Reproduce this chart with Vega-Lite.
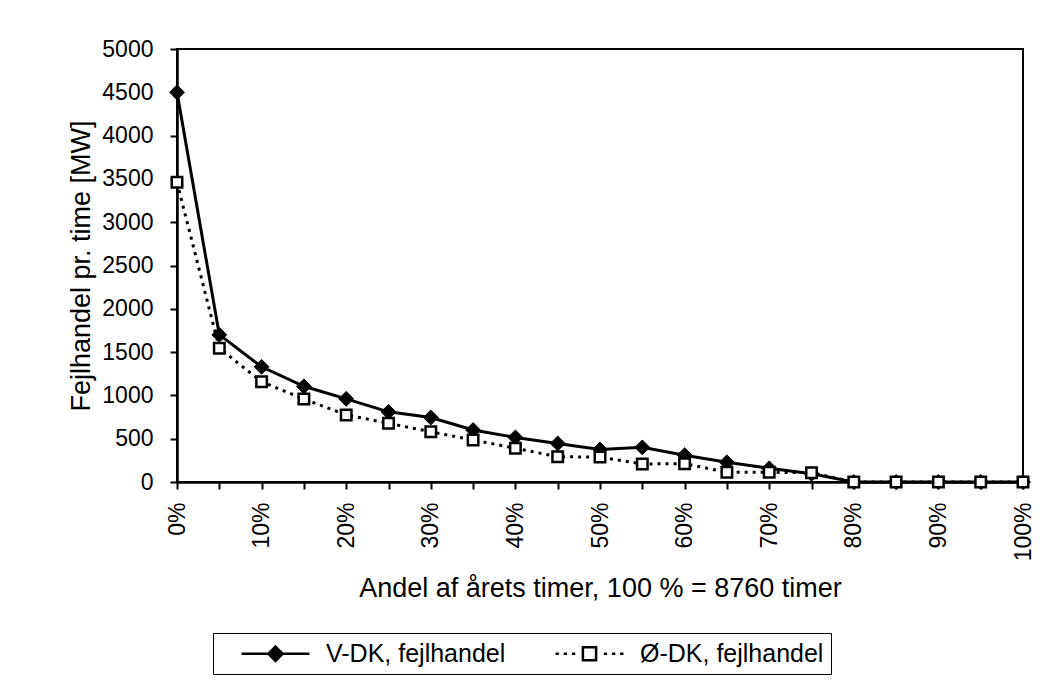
{
  "$schema": "https://vega.github.io/schema/vega-lite/v6.json",
  "width": 846,
  "height": 433,
  "autosize": {"type": "none"},
  "padding": {"left": 177, "top": 49, "right": 38, "bottom": 201},
  "background": "white",
  "config": {
    "view": {"stroke": "black", "strokeWidth": 2},
    "font": "Liberation Sans",
    "axis": {
      "domainColor": "black",
      "domainWidth": 2.5,
      "tickColor": "black",
      "tickWidth": 2,
      "tickSize": 7,
      "labelColor": "black",
      "titleColor": "black",
      "labelFont": "Liberation Sans",
      "titleFont": "Liberation Sans",
      "labelFontSize": 23,
      "titleFontSize": 27,
      "titleFontWeight": "normal",
      "grid": false
    },
    "legend": {
      "orient": "none",
      "direction": "horizontal",
      "strokeColor": "black",
      "padding": 7,
      "symbolSize": 576,
      "symbolStrokeWidth": 2.5,
      "labelFont": "Liberation Sans",
      "labelFontSize": 25,
      "labelColor": "black",
      "labelLimit": 0,
      "labelOffset": 79,
      "columnPadding": 28
    }
  },
  "data": {
    "values": [
      {"andel": 0, "serie": "V-DK, fejlhandel", "mw": 4500},
      {"andel": 5, "serie": "V-DK, fejlhandel", "mw": 1700},
      {"andel": 10, "serie": "V-DK, fejlhandel", "mw": 1330},
      {"andel": 15, "serie": "V-DK, fejlhandel", "mw": 1105},
      {"andel": 20, "serie": "V-DK, fejlhandel", "mw": 960},
      {"andel": 25, "serie": "V-DK, fejlhandel", "mw": 810},
      {"andel": 30, "serie": "V-DK, fejlhandel", "mw": 745},
      {"andel": 35, "serie": "V-DK, fejlhandel", "mw": 600},
      {"andel": 40, "serie": "V-DK, fejlhandel", "mw": 515},
      {"andel": 45, "serie": "V-DK, fejlhandel", "mw": 445},
      {"andel": 50, "serie": "V-DK, fejlhandel", "mw": 375},
      {"andel": 55, "serie": "V-DK, fejlhandel", "mw": 400},
      {"andel": 60, "serie": "V-DK, fejlhandel", "mw": 310},
      {"andel": 65, "serie": "V-DK, fejlhandel", "mw": 228},
      {"andel": 70, "serie": "V-DK, fejlhandel", "mw": 158},
      {"andel": 75, "serie": "V-DK, fejlhandel", "mw": 95},
      {"andel": 80, "serie": "V-DK, fejlhandel", "mw": 0},
      {"andel": 85, "serie": "V-DK, fejlhandel", "mw": 0},
      {"andel": 90, "serie": "V-DK, fejlhandel", "mw": 0},
      {"andel": 95, "serie": "V-DK, fejlhandel", "mw": 0},
      {"andel": 100, "serie": "V-DK, fejlhandel", "mw": 0},
      {"andel": 0, "serie": "Ø-DK, fejlhandel", "mw": 3460},
      {"andel": 5, "serie": "Ø-DK, fejlhandel", "mw": 1545},
      {"andel": 10, "serie": "Ø-DK, fejlhandel", "mw": 1158},
      {"andel": 15, "serie": "Ø-DK, fejlhandel", "mw": 958},
      {"andel": 20, "serie": "Ø-DK, fejlhandel", "mw": 775},
      {"andel": 25, "serie": "Ø-DK, fejlhandel", "mw": 678},
      {"andel": 30, "serie": "Ø-DK, fejlhandel", "mw": 580},
      {"andel": 35, "serie": "Ø-DK, fejlhandel", "mw": 485},
      {"andel": 40, "serie": "Ø-DK, fejlhandel", "mw": 390},
      {"andel": 45, "serie": "Ø-DK, fejlhandel", "mw": 292},
      {"andel": 50, "serie": "Ø-DK, fejlhandel", "mw": 288},
      {"andel": 55, "serie": "Ø-DK, fejlhandel", "mw": 208},
      {"andel": 60, "serie": "Ø-DK, fejlhandel", "mw": 212},
      {"andel": 65, "serie": "Ø-DK, fejlhandel", "mw": 112},
      {"andel": 70, "serie": "Ø-DK, fejlhandel", "mw": 112},
      {"andel": 75, "serie": "Ø-DK, fejlhandel", "mw": 108},
      {"andel": 80, "serie": "Ø-DK, fejlhandel", "mw": 0},
      {"andel": 85, "serie": "Ø-DK, fejlhandel", "mw": 0},
      {"andel": 90, "serie": "Ø-DK, fejlhandel", "mw": 0},
      {"andel": 95, "serie": "Ø-DK, fejlhandel", "mw": 0},
      {"andel": 100, "serie": "Ø-DK, fejlhandel", "mw": 0}
    ]
  },
  "encoding": {
    "x": {
      "field": "andel",
      "type": "quantitative",
      "scale": {"domain": [0, 100], "nice": false, "zero": false},
      "axis": {
        "title": "Andel af årets timer, 100 % = 8760 timer",
        "values": [0, 5, 10, 15, 20, 25, 30, 35, 40, 45, 50, 55, 60, 65, 70, 75, 80, 85, 90, 95, 100],
        "labelExpr": "datum.value % 10 === 0 ? datum.value + '%' : ''",
        "labelAngle": 270,
        "labelPadding": 13,
        "labelOverlap": false,
        "labelFlush": false,
        "titlePadding": 15
      }
    },
    "y": {
      "field": "mw",
      "type": "quantitative",
      "scale": {"domain": [0, 5000], "nice": false},
      "axis": {
        "title": "Fejlhandel pr. time [MW]",
        "values": [0, 500, 1000, 1500, 2000, 2500, 3000, 3500, 4000, 4500, 5000],
        "format": "d",
        "labelPadding": 17,
        "labelOverlap": false,
        "labelFlush": false,
        "titlePadding": 6
      }
    }
  },
  "layer": [
    {
      "transform": [{"filter": "datum.serie === 'V-DK, fejlhandel'"}],
      "mark": {"type": "line", "color": "black", "strokeWidth": 3}
    },
    {
      "transform": [{"filter": "datum.serie === 'Ø-DK, fejlhandel'"}],
      "mark": {"type": "line", "color": "black", "strokeWidth": 3, "strokeDash": [3, 5]}
    },
    {
      "transform": [{"filter": "datum.serie === 'V-DK, fejlhandel'"}],
      "mark": {"type": "point", "shape": "diamond", "filled": true, "fill": "black", "stroke": "black", "strokeWidth": 1, "size": 220, "opacity": 1}
    },
    {
      "transform": [{"filter": "datum.serie === 'Ø-DK, fejlhandel'"}],
      "mark": {"type": "point", "shape": "square", "filled": true, "fill": "white", "stroke": "black", "strokeWidth": 2.5, "size": 110, "opacity": 1}
    },
    {
      "transform": [{"filter": "datum.mw < 0"}],
      "mark": {"type": "point", "filled": true, "strokeWidth": 2.5, "opacity": 1, "size": 576},
      "encoding": {
        "shape": {
          "field": "serie",
          "type": "nominal",
          "scale": {
            "domain": ["V-DK, fejlhandel", "Ø-DK, fejlhandel"],
            "range": [
              "M0.67,0H6.33M3.5,-0.6L4.1,0L3.5,0.6L2.9,0Z",
              "M0.67,0H0.95M1.35,0H1.63M2.03,0H2.31M4.69,0H4.97M5.37,0H5.65M6.05,0H6.33M2.95,-0.55H4.05V0.55H2.95Z"
            ]
          },
          "legend": {"title": null, "legendX": 36, "legendY": 584}
        },
        "fill": {
          "field": "serie",
          "type": "nominal",
          "scale": {
            "domain": ["V-DK, fejlhandel", "Ø-DK, fejlhandel"],
            "range": ["black", "white"]
          },
          "legend": {"title": null, "legendX": 36, "legendY": 584}
        },
        "stroke": {
          "field": "serie",
          "type": "nominal",
          "scale": {
            "domain": ["V-DK, fejlhandel", "Ø-DK, fejlhandel"],
            "range": ["black", "black"]
          },
          "legend": {"title": null, "legendX": 36, "legendY": 584}
        }
      }
    }
  ]
}
